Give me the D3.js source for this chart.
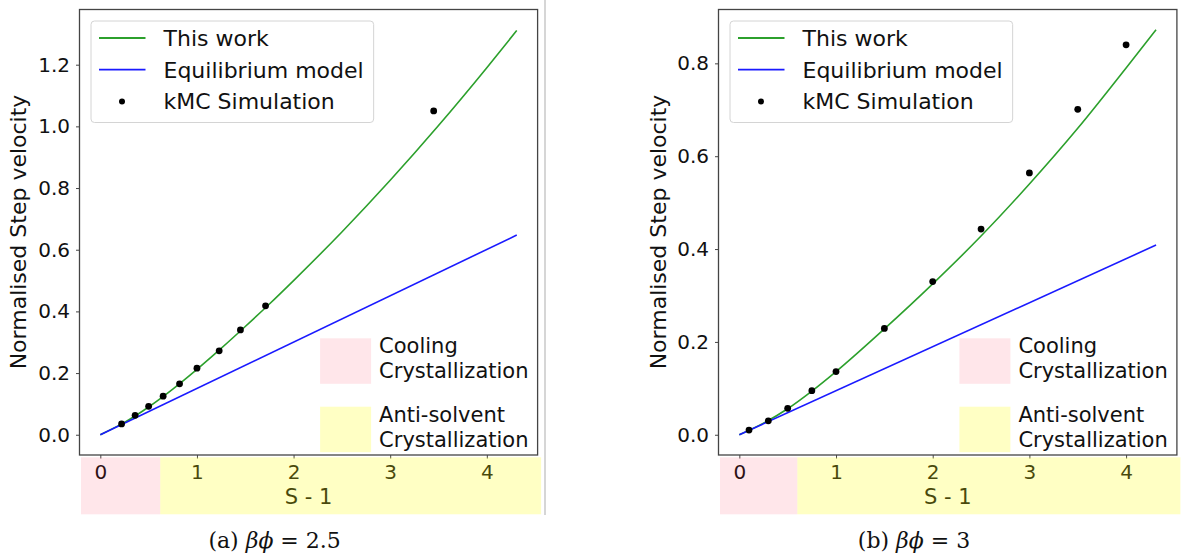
<!DOCTYPE html>
<html>
<head>
<meta charset="utf-8">
<script src="https://cdn.jsdelivr.net/npm/d3@7"></script>
<style>
  body { margin: 0; background: #fff; }
  svg { display: block; font-family: "DejaVu Sans", sans-serif; }
</style>
</head>
<body>
<script>
// tick labels
var xTicks = [0, 1, 2, 3, 4];
var yTicksA = [0, 0.2, 0.4, 0.6, 0.8, 1.0, 1.2];
var yTicksB = [0, 0.2, 0.4, 0.6, 0.8];

// (a) beta*phi = 2.5
var kmcSA = [0.22, 0.36, 0.50, 0.65, 0.82, 1.00, 1.23, 1.45, 1.71, 3.45];
var kmcVA = [0.035, 0.063, 0.092, 0.125, 0.165, 0.216, 0.272, 0.340, 0.418, 1.050];
var workSA = [0, 0.25, 0.5, 0.75, 1.0, 1.25, 1.5, 1.75, 2.0, 2.5, 3.0, 3.5, 4.0, 4.31];
var workVA = [0, 0.04, 0.09, 0.148, 0.212, 0.28, 0.351, 0.424, 0.50, 0.6575, 0.825, 1.0025, 1.19, 1.311];
var eqSA = [0, 4.31];
var eqVA = [0, 0.6475];

// (b) beta*phi = 3
var kmcSB = [0.1, 0.3, 0.5, 0.75, 1.0, 1.5, 2.0, 2.5, 3.0, 3.5, 4.0];
var kmcVB = [0.010, 0.030, 0.057, 0.095, 0.136, 0.229, 0.330, 0.443, 0.564, 0.701, 0.840];
var workSB = [0, 0.25, 0.5, 0.75, 1.0, 1.5, 2.0, 2.5, 3.0, 3.5, 4.0, 4.31];
var workVB = [0, 0.025, 0.056, 0.094, 0.136, 0.228, 0.325, 0.428, 0.54, 0.66, 0.79, 0.8725];
var eqSB = [0, 4.31];
var eqVB = [0, 0.4086];

// upper end of the cooling crystallization range (S - 1)
var coolingEnd = [0.62, 0.6];

var legendLabels = ["This work", "Equilibrium model", "kMC Simulation"];
var regionLabels = [["Cooling", "Crystallization"], ["Anti-solvent", "Crystallization"]];
var captions = [["(a) ", "βϕ", " = 2.5"], ["(b) ", "βϕ", " = 3"]];

var width = 1183, height = 556;
var green = "#2ca02c", blue = "#1a1aff";
var pinkFill = "#ff1a3c", pinkOp = 0.11;
var yellowFill = "#ffff00", yellowOp = 0.23;

var svg = d3.select("body").append("svg")
    .attr("width", width)
    .attr("height", height);

//separator between the two sub-figures
svg.append("line")
    .attr("x1", 545).attr("x2", 545)
    .attr("y1", 0).attr("y2", 515)
    .attr("stroke", "#c8c8c8").attr("stroke-width", 1.5);

function drawPanel(p){
    var x = d3.scaleLinear().domain([-0.2155, 4.5255]).range([p.left, p.right]);
    var y = d3.scaleLinear().domain(p.yDomain).range([455, 9.5]);
    var g = svg.append("g");

    //axes
    g.append("g")
        .attr("transform", "translate(" + p.left + ",0)")
        .call(d3.axisLeft(y).tickValues(p.yTicks).tickSize(3.5).tickPadding(6).tickFormat(d3.format(".1f")))
        .call(function(a){
            a.select(".domain").remove();
            a.selectAll("line").attr("stroke", "#444");
            a.selectAll("text").attr("font-size", 20).attr("fill", "#111").attr("font-family", "DejaVu Sans");
        });
    g.append("g")
        .attr("transform", "translate(0,455)")
        .call(d3.axisBottom(x).tickValues(xTicks).tickSize(3.5).tickPadding(6.5).tickFormat(d3.format("d")))
        .call(function(a){
            a.select(".domain").remove();
            a.selectAll("line").attr("stroke", "#444");
            a.selectAll("text").attr("font-size", 20).attr("fill", "#111").attr("font-family", "DejaVu Sans");
        });

    //axis titles
    g.append("text")
        .attr("x", (p.left + p.right) / 2).attr("y", 503.5)
        .attr("text-anchor", "middle").attr("font-size", 21).attr("fill", "#111")
        .text("S - 1");
    g.append("text")
        .attr("transform", "translate(" + p.ylabelX + ",232) rotate(-90)")
        .attr("text-anchor", "middle").attr("font-size", 22).attr("fill", "#111")
        .text("Normalised Step velocity");

    //model lines
    var line = d3.line()
        .x(function(d){ return x(d[0]); })
        .y(function(d){ return y(d[1]); })
        .curve(d3.curveMonotoneX);
    g.append("path")
        .datum(d3.zip(p.workS, p.workV))
        .attr("d", line)
        .attr("fill", "none").attr("stroke", green).attr("stroke-width", 1.6);
    g.append("path")
        .datum(d3.zip(p.eqS, p.eqV))
        .attr("d", line)
        .attr("fill", "none").attr("stroke", blue).attr("stroke-width", 1.6);

    //kMC points
    g.selectAll(".kmc")
        .data(d3.zip(p.kmcS, p.kmcV))
        .enter()
        .append("circle")
        .attr("class", "kmc")
        .attr("cx", function(d){ return x(d[0]); })
        .attr("cy", function(d){ return y(d[1]); })
        .attr("r", 3.4)
        .attr("fill", "#000");

    //frame
    g.append("rect")
        .attr("x", p.left).attr("y", 9.5)
        .attr("width", p.right - p.left).attr("height", 455 - 9.5)
        .attr("fill", "none").attr("stroke", "#444").attr("stroke-width", 1.3);

    //legend
    var lg = g.append("g");
    var box = lg.append("rect")
        .attr("x", p.left + 11.5).attr("y", 21)
        .attr("height", 101.5).attr("rx", 3.5)
        .attr("fill", "#fff").attr("fill-opacity", 0.8)
        .attr("stroke", "#d4d4d4").attr("stroke-width", 1);
    var rows = [38, 69.7, 101.4];
    var maxEnd = 0;
    legendLabels.forEach(function(t, i){
        var tx = lg.append("text")
            .attr("x", p.left + 84).attr("y", rows[i] + 7.8)
            .attr("font-size", 22).attr("fill", "#111")
            .text(t);
        maxEnd = Math.max(maxEnd, p.left + 84 + tx.node().getComputedTextLength());
    });
    box.attr("width", maxEnd + 10 - (p.left + 11.5));
    lg.append("line")
        .attr("x1", p.left + 19.5).attr("x2", p.left + 66)
        .attr("y1", rows[0]).attr("y2", rows[0])
        .attr("stroke", green).attr("stroke-width", 1.8);
    lg.append("line")
        .attr("x1", p.left + 19.5).attr("x2", p.left + 66)
        .attr("y1", rows[1]).attr("y2", rows[1])
        .attr("stroke", blue).attr("stroke-width", 1.8);
    lg.append("circle")
        .attr("cx", p.left + 42.5).attr("cy", rows[2])
        .attr("r", 3).attr("fill", "#000");

    //crystallization regions under the x axis (drawn over the tick labels)
    var bandL = p.left + 1.5, bandR = p.right + 3.5;
    g.append("rect")
        .attr("x", bandL).attr("y", 457.3)
        .attr("width", x(p.cooling) - bandL).attr("height", 57)
        .attr("fill", pinkFill).attr("fill-opacity", pinkOp);
    g.append("rect")
        .attr("x", x(p.cooling)).attr("y", 457.3)
        .attr("width", bandR - x(p.cooling)).attr("height", 57)
        .attr("fill", yellowFill).attr("fill-opacity", yellowOp);

    //region legend
    var tx0 = p.right - 158.5;
    [[338.3, pinkFill, pinkOp], [406.7, yellowFill, yellowOp]].forEach(function(r, i){
        g.append("rect")
            .attr("x", tx0 - 59).attr("y", r[0])
            .attr("width", 51).attr("height", 45.5)
            .attr("fill", r[1]).attr("fill-opacity", r[2]);
        regionLabels[i].forEach(function(t, j){
            g.append("text")
                .attr("x", tx0).attr("y", r[0] + 15 + j * 25)
                .attr("font-size", 21).attr("fill", "#111")
                .text(t);
        });
    });

    //caption
    var cap = svg.append("text")
        .attr("x", p.captionX).attr("y", 548)
        .attr("text-anchor", "middle")
        .attr("font-family", "DejaVu Serif").attr("font-size", 22).attr("fill", "#111");
    cap.append("tspan").text(p.caption[0]);
    cap.append("tspan").attr("font-style", "italic").text(p.caption[1]);
    cap.append("tspan").text(p.caption[2]);
}

drawPanel({
    left: 79.5, right: 537.6, yDomain: [-0.0657, 1.379], yTicks: yTicksA,
    kmcS: kmcSA, kmcV: kmcVA, workS: workSA, workV: workVA, eqS: eqSA, eqV: eqVA,
    cooling: coolingEnd[0], ylabelX: 26, captionX: 274.6, caption: captions[0]
});
drawPanel({
    left: 718.5, right: 1176.9, yDomain: [-0.0436, 0.916], yTicks: yTicksB,
    kmcS: kmcSB, kmcV: kmcVB, workS: workSB, workV: workVB, eqS: eqSB, eqV: eqVB,
    cooling: coolingEnd[1], ylabelX: 665.5, captionX: 914, caption: captions[1]
});
</script>
</body>
</html>
